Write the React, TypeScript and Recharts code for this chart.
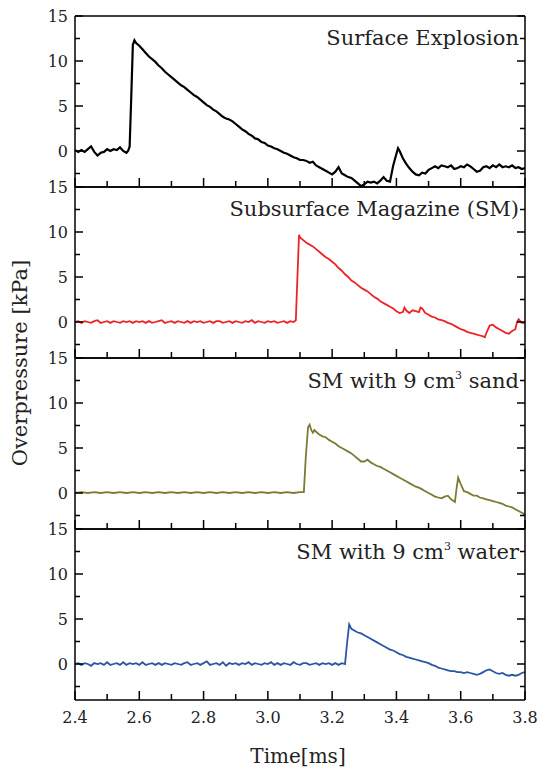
import React from 'react';
import { LineChart, Line, XAxis, YAxis, ReferenceLine } from 'recharts';

// time [ms], overpressure [kPa]
const surfaceExplosion: [number, number][] = [
  [2.40, 0.1], [2.41, -0.1], [2.42, 0.1], [2.43, -0.1], [2.44, 0.2], [2.45, 0.5], [2.46, -0.1], [2.47, -0.5], [2.48, -0.2], [2.49, -0.1],
  [2.50, 0.2], [2.51, 0.0], [2.52, 0.2], [2.53, 0.1], [2.54, 0.4], [2.55, 0.0], [2.56, -0.2], [2.565, 0.0], [2.57, 0.5], [2.575, 6.0],
  [2.58, 11.8], [2.585, 12.3], [2.59, 12.0], [2.60, 11.7], [2.61, 11.3], [2.62, 10.9], [2.63, 10.5], [2.64, 10.2], [2.65, 9.9], [2.66, 9.5],
  [2.67, 9.2], [2.68, 8.8], [2.69, 8.5], [2.70, 8.2], [2.71, 7.9], [2.72, 7.6], [2.73, 7.3], [2.74, 7.1], [2.75, 6.8], [2.76, 6.5],
  [2.77, 6.2], [2.78, 6.0], [2.79, 5.7], [2.80, 5.4], [2.81, 5.1], [2.82, 4.9], [2.83, 4.6], [2.84, 4.4], [2.85, 4.1], [2.86, 3.8],
  [2.87, 3.6], [2.88, 3.5], [2.89, 3.3], [2.90, 3.0], [2.91, 2.7], [2.92, 2.4], [2.93, 2.2], [2.94, 1.9], [2.95, 1.7], [2.96, 1.4],
  [2.97, 1.3], [2.98, 1.0], [2.99, 0.9], [3.00, 0.6], [3.01, 0.5], [3.02, 0.3], [3.03, 0.2], [3.04, 0.0], [3.05, -0.2], [3.06, -0.3],
  [3.07, -0.5], [3.08, -0.7], [3.09, -0.8], [3.10, -1.0], [3.11, -1.0], [3.12, -1.1], [3.13, -1.3], [3.14, -1.2], [3.15, -1.6], [3.16, -1.8],
  [3.17, -2.0], [3.18, -2.2], [3.19, -2.4], [3.20, -2.6], [3.21, -2.3], [3.22, -1.8], [3.23, -2.5], [3.24, -2.7], [3.25, -2.9], [3.26, -3.0],
  [3.27, -3.3], [3.28, -3.6], [3.29, -3.9], [3.30, -3.7], [3.31, -3.4], [3.32, -3.5], [3.33, -3.4], [3.34, -3.6], [3.35, -3.3], [3.36, -2.9],
  [3.37, -3.3], [3.38, -3.4], [3.39, -1.6], [3.40, -0.3], [3.405, 0.3], [3.41, 0.0], [3.42, -0.8], [3.43, -1.4], [3.44, -1.9], [3.45, -2.3],
  [3.46, -2.6], [3.47, -2.7], [3.48, -2.4], [3.49, -2.5], [3.50, -2.1], [3.51, -1.9], [3.52, -1.7], [3.53, -1.9], [3.54, -1.6], [3.55, -1.7],
  [3.56, -1.8], [3.57, -1.6], [3.58, -2.0], [3.59, -1.9], [3.60, -1.7], [3.61, -1.8], [3.62, -1.5], [3.63, -1.7], [3.64, -2.0], [3.65, -2.3],
  [3.66, -2.2], [3.67, -1.8], [3.68, -1.7], [3.69, -1.9], [3.70, -1.6], [3.71, -1.8], [3.72, -1.5], [3.73, -1.8], [3.74, -1.7], [3.75, -1.8],
  [3.76, -1.6], [3.77, -1.9], [3.78, -1.8], [3.79, -2.0], [3.80, -1.9],
];

const subsurfaceMagazine: [number, number][] = [
  [2.40, 0.0], [2.41, 0.1], [2.42, -0.1], [2.43, 0.1], [2.44, 0.0], [2.45, -0.1], [2.46, 0.1], [2.47, 0.2], [2.48, -0.1], [2.49, 0.0],
  [2.50, 0.1], [2.51, -0.1], [2.52, 0.1], [2.53, 0.0], [2.54, -0.1], [2.55, 0.1], [2.56, 0.0], [2.57, 0.1], [2.58, -0.1], [2.59, 0.1],
  [2.60, 0.0], [2.61, 0.1], [2.62, -0.1], [2.63, 0.1], [2.64, -0.1], [2.65, 0.0], [2.66, 0.1], [2.67, 0.2], [2.68, -0.1], [2.69, 0.0],
  [2.70, 0.1], [2.71, -0.1], [2.72, 0.1], [2.73, 0.0], [2.74, -0.1], [2.75, 0.1], [2.76, -0.1], [2.77, 0.1], [2.78, 0.0], [2.79, 0.1],
  [2.80, -0.1], [2.81, 0.0], [2.82, 0.1], [2.83, -0.1], [2.84, 0.1], [2.85, 0.1], [2.86, -0.1], [2.87, 0.0], [2.88, 0.1], [2.89, -0.1],
  [2.90, 0.1], [2.91, 0.0], [2.92, -0.1], [2.93, 0.1], [2.94, 0.0], [2.95, 0.2], [2.96, -0.1], [2.97, 0.1], [2.98, 0.0], [2.99, -0.1],
  [3.00, 0.1], [3.01, 0.0], [3.02, 0.1], [3.03, -0.1], [3.04, 0.0], [3.05, 0.1], [3.06, -0.1], [3.07, 0.1], [3.08, 0.0], [3.087, 0.2],
  [3.092, 5.0], [3.097, 9.7], [3.10, 9.4], [3.11, 9.1], [3.12, 8.8], [3.13, 8.6], [3.14, 8.4], [3.15, 8.1], [3.16, 7.8], [3.17, 7.5],
  [3.18, 7.2], [3.19, 7.0], [3.20, 6.7], [3.21, 6.4], [3.22, 6.0], [3.23, 5.7], [3.24, 5.3], [3.25, 5.0], [3.26, 4.6], [3.27, 4.4],
  [3.28, 4.1], [3.29, 3.8], [3.30, 3.6], [3.31, 3.4], [3.32, 3.1], [3.33, 2.8], [3.34, 2.6], [3.35, 2.3], [3.36, 2.1], [3.37, 1.9],
  [3.38, 1.7], [3.39, 1.5], [3.40, 1.2], [3.41, 1.0], [3.42, 1.1], [3.425, 1.6], [3.43, 1.3], [3.44, 1.0], [3.45, 1.3], [3.46, 1.2],
  [3.47, 1.1], [3.475, 1.6], [3.48, 1.5], [3.49, 1.0], [3.50, 0.8], [3.51, 0.6], [3.52, 0.5], [3.53, 0.3], [3.54, 0.2], [3.55, 0.1],
  [3.56, -0.1], [3.57, -0.2], [3.58, -0.4], [3.59, -0.6], [3.60, -0.8], [3.61, -0.9], [3.62, -1.1], [3.63, -1.2], [3.64, -1.3], [3.65, -1.4],
  [3.66, -1.5], [3.67, -1.6], [3.675, -1.7], [3.68, -1.2], [3.69, -0.4], [3.70, -0.3], [3.71, -0.6], [3.72, -0.8], [3.73, -1.0], [3.74, -1.2],
  [3.75, -1.3], [3.76, -1.0], [3.77, -0.8], [3.775, 0.0], [3.78, 0.3], [3.79, -0.1], [3.80, -0.1],
];

const withSand: [number, number][] = [
  [2.40, 0.0], [2.42, 0.1], [2.44, 0.0], [2.46, 0.1], [2.48, 0.0], [2.50, 0.1], [2.52, 0.0], [2.54, 0.1], [2.56, 0.0], [2.58, 0.1],
  [2.60, 0.0], [2.62, 0.1], [2.64, 0.0], [2.66, 0.1], [2.68, 0.0], [2.70, 0.1], [2.72, 0.0], [2.74, 0.1], [2.76, 0.0], [2.78, 0.1],
  [2.80, 0.0], [2.82, 0.1], [2.84, 0.0], [2.86, 0.1], [2.88, 0.0], [2.90, 0.1], [2.92, 0.0], [2.94, 0.1], [2.96, 0.0], [2.98, 0.1],
  [3.00, 0.0], [3.02, 0.1], [3.04, 0.0], [3.06, 0.1], [3.08, 0.0], [3.10, 0.1], [3.112, 0.1], [3.118, 4.0], [3.125, 7.3], [3.13, 7.6],
  [3.135, 7.0], [3.14, 6.7], [3.145, 7.0], [3.15, 6.8], [3.16, 6.5], [3.17, 6.3], [3.18, 6.2], [3.19, 5.9], [3.20, 5.7], [3.21, 5.5],
  [3.22, 5.2], [3.23, 5.0], [3.24, 4.8], [3.25, 4.6], [3.26, 4.4], [3.27, 4.1], [3.28, 3.8], [3.29, 3.5], [3.30, 3.5], [3.31, 3.7],
  [3.32, 3.4], [3.33, 3.2], [3.34, 3.0], [3.35, 2.9], [3.36, 2.7], [3.37, 2.5], [3.38, 2.3], [3.39, 2.1], [3.40, 1.9], [3.41, 1.7],
  [3.42, 1.5], [3.43, 1.3], [3.44, 1.1], [3.45, 0.9], [3.46, 0.7], [3.47, 0.6], [3.48, 0.4], [3.49, 0.2], [3.50, 0.0], [3.51, -0.2],
  [3.52, -0.4], [3.53, -0.5], [3.54, -0.6], [3.55, -0.4], [3.56, -0.3], [3.57, -0.7], [3.582, -1.0], [3.587, 0.5], [3.592, 1.7], [3.60, 1.0],
  [3.61, 0.2], [3.62, 0.1], [3.63, -0.1], [3.64, -0.3], [3.65, -0.3], [3.66, -0.5], [3.67, -0.6], [3.68, -0.7], [3.69, -0.8], [3.70, -0.9],
  [3.71, -1.0], [3.72, -1.1], [3.73, -1.2], [3.74, -1.4], [3.75, -1.5], [3.76, -1.6], [3.77, -1.8], [3.78, -2.0], [3.79, -2.2], [3.80, -2.4],
];

const withWater: [number, number][] = [
  [2.40, 0.0], [2.41, 0.1], [2.42, -0.1], [2.43, 0.1], [2.44, 0.0], [2.45, -0.2], [2.46, 0.1], [2.47, 0.0], [2.48, 0.1], [2.49, -0.1],
  [2.50, 0.2], [2.51, -0.1], [2.52, 0.0], [2.53, 0.1], [2.54, -0.1], [2.55, 0.2], [2.56, -0.1], [2.57, 0.1], [2.58, 0.0], [2.59, 0.1],
  [2.60, -0.1], [2.61, 0.2], [2.62, -0.1], [2.63, 0.0], [2.64, 0.1], [2.65, -0.1], [2.66, 0.1], [2.67, -0.1], [2.68, 0.1], [2.69, 0.0],
  [2.70, -0.1], [2.71, 0.1], [2.72, 0.0], [2.73, -0.1], [2.74, 0.1], [2.75, 0.2], [2.76, -0.1], [2.77, 0.0], [2.78, 0.1], [2.79, -0.1],
  [2.80, 0.1], [2.81, 0.3], [2.82, -0.1], [2.83, 0.0], [2.84, 0.1], [2.85, -0.1], [2.86, 0.2], [2.87, -0.2], [2.88, 0.1], [2.89, 0.0],
  [2.90, 0.1], [2.91, -0.1], [2.92, 0.1], [2.93, 0.0], [2.94, 0.2], [2.95, -0.1], [2.96, 0.1], [2.97, 0.0], [2.98, -0.1], [2.99, 0.1],
  [3.00, 0.0], [3.01, 0.2], [3.02, -0.1], [3.03, 0.1], [3.04, -0.1], [3.05, 0.1], [3.06, 0.0], [3.07, -0.1], [3.08, 0.2], [3.09, 0.0],
  [3.10, -0.1], [3.11, 0.1], [3.12, 0.1], [3.13, -0.1], [3.14, 0.0], [3.15, 0.1], [3.16, -0.1], [3.17, 0.1], [3.18, 0.0], [3.19, 0.1],
  [3.20, -0.1], [3.21, 0.1], [3.22, -0.1], [3.23, 0.1], [3.24, 0.0], [3.247, 2.5], [3.253, 4.4], [3.26, 3.9], [3.27, 3.7], [3.28, 3.5],
  [3.29, 3.4], [3.30, 3.2], [3.31, 3.0], [3.32, 2.8], [3.33, 2.6], [3.34, 2.4], [3.35, 2.2], [3.36, 2.0], [3.37, 1.8], [3.38, 1.6],
  [3.39, 1.5], [3.40, 1.3], [3.41, 1.1], [3.42, 1.0], [3.43, 0.8], [3.44, 0.7], [3.45, 0.6], [3.46, 0.5], [3.47, 0.4], [3.48, 0.3],
  [3.49, 0.2], [3.50, 0.1], [3.51, -0.1], [3.52, -0.2], [3.53, -0.4], [3.54, -0.5], [3.55, -0.6], [3.56, -0.7], [3.57, -0.8], [3.58, -0.8],
  [3.59, -0.9], [3.60, -0.9], [3.61, -1.0], [3.62, -0.9], [3.63, -1.0], [3.64, -1.1], [3.65, -1.2], [3.66, -1.1], [3.67, -0.9], [3.68, -0.7],
  [3.69, -0.6], [3.70, -0.8], [3.71, -1.0], [3.72, -1.1], [3.73, -1.0], [3.74, -1.2], [3.75, -1.3], [3.76, -1.2], [3.77, -1.3], [3.78, -1.2],
  [3.79, -1.0], [3.80, -0.9],
];

const xTicks = [2.4, 2.5, 2.6, 2.7, 2.8, 2.9, 3.0, 3.1, 3.2, 3.3, 3.4, 3.5, 3.6, 3.7, 3.8];
const yTicks = [-2.5, 0, 2.5, 5, 7.5, 10, 12.5, 15];

const FONT = '"DejaVu Serif", serif';
const W = 539;
const PLOT_H = 171;
const LEFT = 75;
const RIGHT = 14;

const XTick = (props: any) => {
  const { x, y, payload, showLabel } = props;
  const major = Math.round(payload.value * 10) % 2 === 0;
  const len = major ? 9 : 6;
  return (
    <g>
      <line x1={x} x2={x} y1={y} y2={y - len} stroke="#000" strokeWidth={1.5} />
      {showLabel && major && (
        <text x={x} y={y + 17} textAnchor="middle" dominantBaseline="central" fontSize={16} fontFamily={FONT} fill="#222">
          {payload.value.toFixed(1)}
        </text>
      )}
    </g>
  );
};

const YTick = (props: any) => {
  const { x, y, payload, side } = props;
  const major = payload.value % 5 === 0;
  const len = major ? 8 : 5;
  const dir = side === 'left' ? 1 : -1;
  return (
    <g>
      <line x1={x} x2={x + dir * len} y1={y} y2={y} stroke="#000" strokeWidth={1.5} />
      {side === 'left' && major && (
        <text x={x - 7} y={y} textAnchor="end" dominantBaseline="central" fontSize={16} fontFamily={FONT} fill="#222">
          {payload.value}
        </text>
      )}
    </g>
  );
};

interface PanelProps {
  series: [number, number][];
  color: string;
  top: number;
  width?: number;
  last?: boolean;
}

const Panel: React.FC<PanelProps> = ({ series, color, top, width = 1.8, last = false }) => {
  const data = series.map(([t, v]) => ({ t, v }));
  const axisH = last ? 60 : 10;
  return (
    <div style={{ position: 'absolute', left: 0, top: top - 10 }}>
      <LineChart width={W} height={PLOT_H + 10 + axisH} data={data} margin={{ top: 10, right: 0, bottom: 0, left: 0 }}>
        <XAxis
          type="number"
          dataKey="t"
          domain={[2.4, 3.8]}
          ticks={xTicks}
          interval={0}
          allowDataOverflow
          height={axisH}
          tickSize={0}
          tickMargin={0}
          tickLine={false}
          axisLine={{ stroke: '#000', strokeWidth: 1.5 }}
          tick={<XTick showLabel={last} />}
        />
        <YAxis
          domain={[-4, 15]}
          ticks={yTicks}
          interval={0}
          allowDataOverflow
          width={LEFT}
          tickSize={0}
          tickMargin={0}
          tickLine={false}
          axisLine={{ stroke: '#000', strokeWidth: 1.5 }}
          tick={<YTick side="left" />}
        />
        <YAxis
          yAxisId="r"
          orientation="right"
          domain={[-4, 15]}
          ticks={yTicks}
          interval={0}
          allowDataOverflow
          width={RIGHT}
          tickSize={0}
          tickMargin={0}
          tickLine={false}
          axisLine={{ stroke: '#000', strokeWidth: 1.5 }}
          tick={<YTick side="right" />}
        />
        <ReferenceLine y={15} stroke="#000" strokeWidth={1.5} />
        <Line type="linear" dataKey="v" stroke={color} strokeWidth={width} dot={false} isAnimationActive={false} />
      </LineChart>
    </div>
  );
};

const labelStyle = { fontSize: 21, fontFamily: FONT, fill: '#222' };

export default function App() {
  return (
    <div style={{ position: 'absolute', left: 0, top: 0, width: W, height: 771, background: '#fff' }}>
      <Panel series={surfaceExplosion} color="#000000" top={16} width={2.2} />
      <Panel series={subsurfaceMagazine} color="#ec2427" top={187} />
      <Panel series={withSand} color="#7c7a35" top={358} />
      <Panel series={withWater} color="#2b56a5" top={529} last />
      <svg width={W} height={771} style={{ position: 'absolute', left: 0, top: 0, pointerEvents: 'none' }}>
        <text x={519} y={45} textAnchor="end" {...labelStyle}>Surface Explosion</text>
        <text x={519} y={216} textAnchor="end" {...labelStyle}>Subsurface Magazine (SM)</text>
        <text x={519} y={388} textAnchor="end" {...labelStyle}>
          SM with 9 cm<tspan fontSize={11} dy={-9}>3</tspan><tspan dy={9}> sand</tspan>
        </text>
        <text x={519} y={559} textAnchor="end" {...labelStyle}>
          SM with 9 cm<tspan fontSize={11} dy={-9}>3</tspan><tspan dy={9}> water</tspan>
        </text>
        <text x={298} y={763} textAnchor="middle" fontSize={20} fontFamily={FONT} fill="#222">Time[ms]</text>
        <text x={27} y={363} textAnchor="middle" transform="rotate(-90 27 363)" {...labelStyle}>Overpressure [kPa]</text>
      </svg>
    </div>
  );
}
